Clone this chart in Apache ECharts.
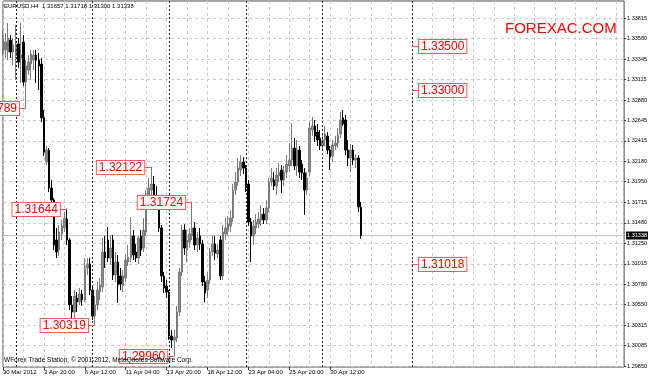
<!DOCTYPE html>
<html><head><meta charset="utf-8">
<script src="https://cdn.jsdelivr.net/npm/echarts@6/dist/echarts.min.js"></script>
<style>html,body{margin:0;padding:0;background:#fff}#c{width:650px;height:378px}</style>
</head><body><div id="c"></div>
<script>
const symbol = 'EURUSD', timeframe = 'H4';
const opens = [1.33416,1.33450,1.33428,1.33564,1.33428,1.33382,1.33519,1.33359,1.33541,1.33086,
1.33222,1.33291,1.33336,1.33393,1.33336,1.33291,1.32676,1.32174,1.32311,1.31878,
1.31741,1.31286,1.31172,1.31354,1.31423,1.31525,1.31286,1.30545,1.30465,1.30625,
1.30579,1.30670,1.30602,1.30967,1.31012,1.30716,1.30420,1.30545,1.30693,1.30750,
1.31149,1.31286,1.31081,1.31286,1.30887,1.31035,1.30876,1.30762,1.30853,1.31035,
1.31081,1.31332,1.31149,1.31081,1.31332,1.31195,1.31377,1.31741,1.31855,1.31923,
1.31787,1.31741,1.31423,1.30876,1.30762,1.30693,1.30192,1.30146,1.30169,1.30465,
1.30921,1.31400,1.31172,1.31263,1.31332,1.31423,1.31229,1.31332,1.31240,1.30807,
1.30716,1.30830,1.31149,1.31240,1.31126,1.31286,1.30876,1.31354,1.31400,1.31446,
1.31536,1.31855,1.31946,1.32083,1.32174,1.32106,1.31923,1.31491,1.31332,1.31423,
1.31468,1.31514,1.31581,1.31514,1.31650,1.31946,1.31969,1.31901,1.32015,1.32083,
1.31969,1.32060,1.32129,1.32197,1.32334,1.32129,1.32311,1.32151,1.32049,1.31855,
1.32060,1.32539,1.32585,1.32516,1.32448,1.32357,1.32425,1.32471,1.32311,1.32243,
1.32357,1.32391,1.32493,1.32676,1.32653,1.32311,1.32220,1.32311,1.32197,1.32220,
1.31657];
const highs = [1.33678,1.33644,1.33758,1.33621,1.33587,1.33735,1.33587,1.33758,1.33621,1.33336,
1.33393,1.33450,1.33450,1.33450,1.33416,1.33359,1.32767,1.32357,1.32334,1.31969,
1.31764,1.31423,1.31457,1.31514,1.31604,1.31644,1.31309,1.30648,1.30716,1.30693,
1.30739,1.30716,1.31081,1.31081,1.31081,1.30762,1.30648,1.30807,1.30853,1.31309,
1.31332,1.31434,1.31343,1.31343,1.31149,1.31115,1.30967,1.30944,1.31115,1.31229,
1.31547,1.31400,1.31240,1.31332,1.31400,1.31536,1.31855,1.31992,1.32122,1.32015,
1.31901,1.31787,1.31457,1.30921,1.30830,1.30716,1.30260,1.30260,1.30534,1.30967,
1.31457,1.31468,1.31400,1.31423,1.31724,1.31491,1.31377,1.31423,1.31286,1.30876,
1.30921,1.31195,1.31343,1.31332,1.31240,1.31332,1.31457,1.31536,1.31559,1.31627,
1.31923,1.32060,1.32220,1.32254,1.32231,1.32140,1.31969,1.31536,1.31514,1.31581,
1.31604,1.31684,1.31650,1.31741,1.31992,1.32106,1.32060,1.32106,1.32163,1.32140,
1.32129,1.32254,1.32391,1.32619,1.32448,1.32425,1.32357,1.32197,1.32106,1.32060,
1.32630,1.32687,1.32653,1.32607,1.32539,1.32493,1.32585,1.32516,1.32357,1.32425,
1.32471,1.32562,1.32744,1.32767,1.32710,1.32425,1.32379,1.32368,1.32265,1.32254,
1.31718];
const lows = [1.33382,1.33359,1.33336,1.33359,1.33279,1.33109,1.33245,1.33075,1.33040,1.32789,
1.33165,1.33109,1.33222,1.33075,1.32995,1.32630,1.32243,1.32140,1.31832,1.31684,
1.31172,1.31081,1.31104,1.31286,1.31377,1.31229,1.30488,1.30374,1.30397,1.30465,
1.30545,1.30534,1.30579,1.30887,1.30659,1.30374,1.30319,1.30488,1.30602,1.30693,
1.30967,1.31035,1.31001,1.30830,1.30807,1.30568,1.30716,1.30693,1.30807,1.30990,
1.31035,1.31058,1.31035,1.31012,1.31104,1.31149,1.31332,1.31684,1.31798,1.31695,
1.31650,1.31377,1.30807,1.30682,1.30625,1.30146,1.30055,1.29960,1.30123,1.30420,
1.30876,1.31115,1.31035,1.31195,1.31286,1.31172,1.31149,1.31172,1.30762,1.30579,
1.30625,1.30784,1.31104,1.31058,1.31081,1.30830,1.30830,1.31286,1.31332,1.31377,
1.31491,1.31798,1.31901,1.32015,1.32037,1.31832,1.31446,1.31035,1.31229,1.31354,
1.31423,1.31446,1.31468,1.31468,1.31604,1.31901,1.31855,1.31798,1.31946,1.31821,
1.31901,1.31992,1.32060,1.32129,1.32083,1.32015,1.31992,1.31969,1.31570,1.31798,
1.32015,1.32471,1.32402,1.32357,1.32311,1.32311,1.32357,1.32265,1.32083,1.32174,
1.32311,1.32334,1.32448,1.32585,1.32254,1.32129,1.32060,1.32140,1.32106,1.31604,
1.31300];
const closes = [1.33587,1.33541,1.33587,1.33428,1.33507,1.33519,1.33314,1.33393,1.33086,1.33268,
1.33314,1.33405,1.33393,1.33336,1.33268,1.32676,1.32288,1.32311,1.31878,1.31741,
1.31229,1.31149,1.31377,1.31446,1.31536,1.31286,1.30545,1.30465,1.30648,1.30579,
1.30670,1.30602,1.30967,1.31012,1.30716,1.30420,1.30545,1.30716,1.30773,1.31149,
1.31081,1.31081,1.31195,1.30887,1.31035,1.30773,1.30784,1.30876,1.31058,1.31092,
1.31332,1.31115,1.31081,1.31309,1.31172,1.31400,1.31741,1.31878,1.31923,1.31764,
1.31718,1.31423,1.30876,1.30739,1.30693,1.30192,1.30146,1.30180,1.30465,1.30921,
1.31400,1.31195,1.31286,1.31354,1.31423,1.31229,1.31309,1.31240,1.30807,1.30682,
1.30830,1.31149,1.31240,1.31138,1.31172,1.30876,1.31377,1.31423,1.31468,1.31536,
1.31855,1.31946,1.32106,1.32174,1.32106,1.31878,1.31491,1.31332,1.31446,1.31491,
1.31524,1.31581,1.31514,1.31650,1.31946,1.31992,1.31901,1.32026,1.32060,1.31969,
1.32060,1.32151,1.32197,1.32334,1.32129,1.32311,1.32060,1.32049,1.31855,1.31992,
1.32562,1.32585,1.32471,1.32425,1.32357,1.32425,1.32493,1.32311,1.32231,1.32368,
1.32391,1.32482,1.32653,1.32607,1.32311,1.32220,1.32311,1.32197,1.32220,1.31661,
1.31338];

const xTickLabels = ['30 Mar 2012','3 Apr 20:00','6 Apr 12:00','11 Apr 04:00','13 Apr 20:00',
                     '18 Apr 12:00','23 Apr 04:00','25 Apr 20:00','30 Apr 12:00'];
const labelEvery = 16;      // bars between time labels
const gridEvery = 8;        // bars between vertical grid lines
const totalSlots = 244;     // bar slots across the chart (incl. empty shift area)
const weekStarts = [5, 35, 65, 95, 125];
const markerBar = 160;
const yTicks = [1.29850,1.30085,1.30315,1.30550,1.30780,1.31015,1.31250,1.31480,1.31715,
                1.31950,1.32180,1.32415,1.32645,1.32880,1.33115,1.33345,1.33580,1.33815];
const yMin = 1.29839, yMax = 1.34009;

const priceLabelBars   = [9, 25, 36, 58, 67, 74, 160, 160, 160];
const priceLabelValues = [1.32789,1.31644,1.30319,1.32122,1.29960,1.31724,1.33500,1.33000,1.31018];
const priceLabelSides  = ['left','left','left','left','left','left','right','right','right'];

const FONT = '"Liberation Sans", Arial, sans-serif';
const slots = Array.from({length: totalSlots}, (_, i) => String(i));
const candles = opens.map((o, i) => [o, closes[i], lows[i], highs[i]]);
const last = opens.length - 1;
const f5 = v => v.toFixed(5);

const chart = echarts.init(document.getElementById('c'), null, {renderer: 'canvas'});
chart.setOption({
  animation: false,
  backgroundColor: '#ffffff',
  grid: {left: 1.5, top: 1, right: 24, bottom: 11, show: true, borderColor: '#4a4a4a', borderWidth: 1, backgroundColor: '#fff'},
  xAxis: {
    type: 'category', data: slots, boundaryGap: false,
    axisLine: {show: false},
    axisTick: {show: true, length: 3, lineStyle: {color: '#333'},
               interval: (i) => i % labelEvery === 0 && i / labelEvery < xTickLabels.length},
    axisLabel: {show: true, align: 'left', margin: 2, fontSize: 6, color: '#000', fontFamily: FONT,
                interval: (i) => i % labelEvery === 0 && i / labelEvery < xTickLabels.length,
                formatter: (v, i) => xTickLabels[i / labelEvery] || ''},
    splitLine: {show: true, interval: (i) => i % gridEvery === 0,
                lineStyle: {color: '#cfcaca', type: [3, 3], width: 1}}
  },
  yAxis: {
    type: 'value', position: 'right', min: yMin, max: yMax, scale: true,
    axisLine: {show: false},
    axisTick: {show: true, length: 2, customValues: yTicks, lineStyle: {color: '#333'}},
    axisLabel: {show: true, customValues: yTicks, formatter: f5, fontSize: 5.5, margin: 3,
                color: '#000', fontFamily: FONT},
    splitLine: {show: true, lineStyle: {color: '#cfcaca', type: [3, 3], width: 1}}
  },
  graphic: [
    {type: 'text', left: 4, top: 3, z: 100,
     style: {text: `${symbol},${timeframe}  ${f5(opens[last])} ${f5(highs[last])} ${f5(lows[last])} ${f5(closes[last])}`,
             font: `6px ${FONT}`, fill: '#000'}},
    {type: 'text', left: 4, top: 357, z: 100,
     style: {text: 'WForex Trade Station, \u00a9 2001-2012, MetaQuotes Software Corp.',
             font: `6.5px ${FONT}`, fill: '#000'}},
    {type: 'text', left: 505, top: 21, z: 100,
     style: {text: 'FOREXAC.COM', font: `15px ${FONT}`, fill: '#ff0000'}}
  ],
  series: [
    {
      // current price line + price box on the axis
      type: 'custom', clip: false, z: 1, silent: true,
      data: [[0, closes[last]]],
      encode: {x: 0, y: 1},
      renderItem: (params, api) => {
        const a = api.coord([0, api.value(1)]);
        const b = api.coord([totalSlots - 1, api.value(1)]);
        const y = Math.round(a[1]) + 0.5;
        return {
          type: 'group',
          children: [
            {type: 'line', shape: {x1: a[0], y1: y, x2: b[0], y2: y}, style: {stroke: '#c4c4c4', lineWidth: 1}},
            {type: 'text', x: b[0] + 2, y: y, z2: 20,
             style: {text: f5(api.value(1)), fill: '#fff', font: `5.5px ${FONT}`, align: 'left', verticalAlign: 'middle',
                     backgroundColor: '#000', padding: [1, 1]}}
          ]
        };
      }
    },
    {
      type: 'candlestick', data: candles, barWidth: 2,
      itemStyle: {color: '#8e8e8e', color0: '#000000', borderColor: '#7a7a7a', borderColor0: '#000000', borderWidth: 1},
      markLine: {
        symbol: ['none', 'none'], silent: true, animation: false,
        data: [
          ...weekStarts.map(b => ({xAxis: b, lineStyle: {color: '#222', type: [2, 2], width: 1}, label: {show: false}})),
          {xAxis: markerBar, lineStyle: {color: '#222', type: [2, 2], width: 1}, label: {show: false}}
        ]
      },
      z: 3
    },
    {
      type: 'custom', clip: false, z: 10, silent: true,
      data: priceLabelBars.map((b, i) => [b, priceLabelValues[i]]),
      encode: {x: 0, y: 1},
      renderItem: (params, api) => {
        const pt = api.coord([api.value(0), api.value(1)]);
        const side = priceLabelSides[params.dataIndex];
        const dir = side === 'left' ? -1 : 1;
        const ex = pt[0] + dir * 7;
        const y = Math.round(pt[1]) + 0.5;
        return {
          type: 'group',
          children: [
            {type: 'line', shape: {x1: pt[0], y1: y, x2: ex, y2: y}, style: {stroke: '#ff5a5a', lineWidth: 1}},
            {type: 'text', x: ex, y: y,
             style: {text: f5(priceLabelValues[params.dataIndex]), fill: '#ff0000', font: `12px ${FONT}`,
                     align: side === 'left' ? 'right' : 'left', verticalAlign: 'middle',
                     backgroundColor: '#ffffff', borderColor: '#ff5a5a', borderWidth: 1, padding: [1, 2, 0, 2]}}
          ]
        };
      }
    }
  ]
});
</script></body></html>
